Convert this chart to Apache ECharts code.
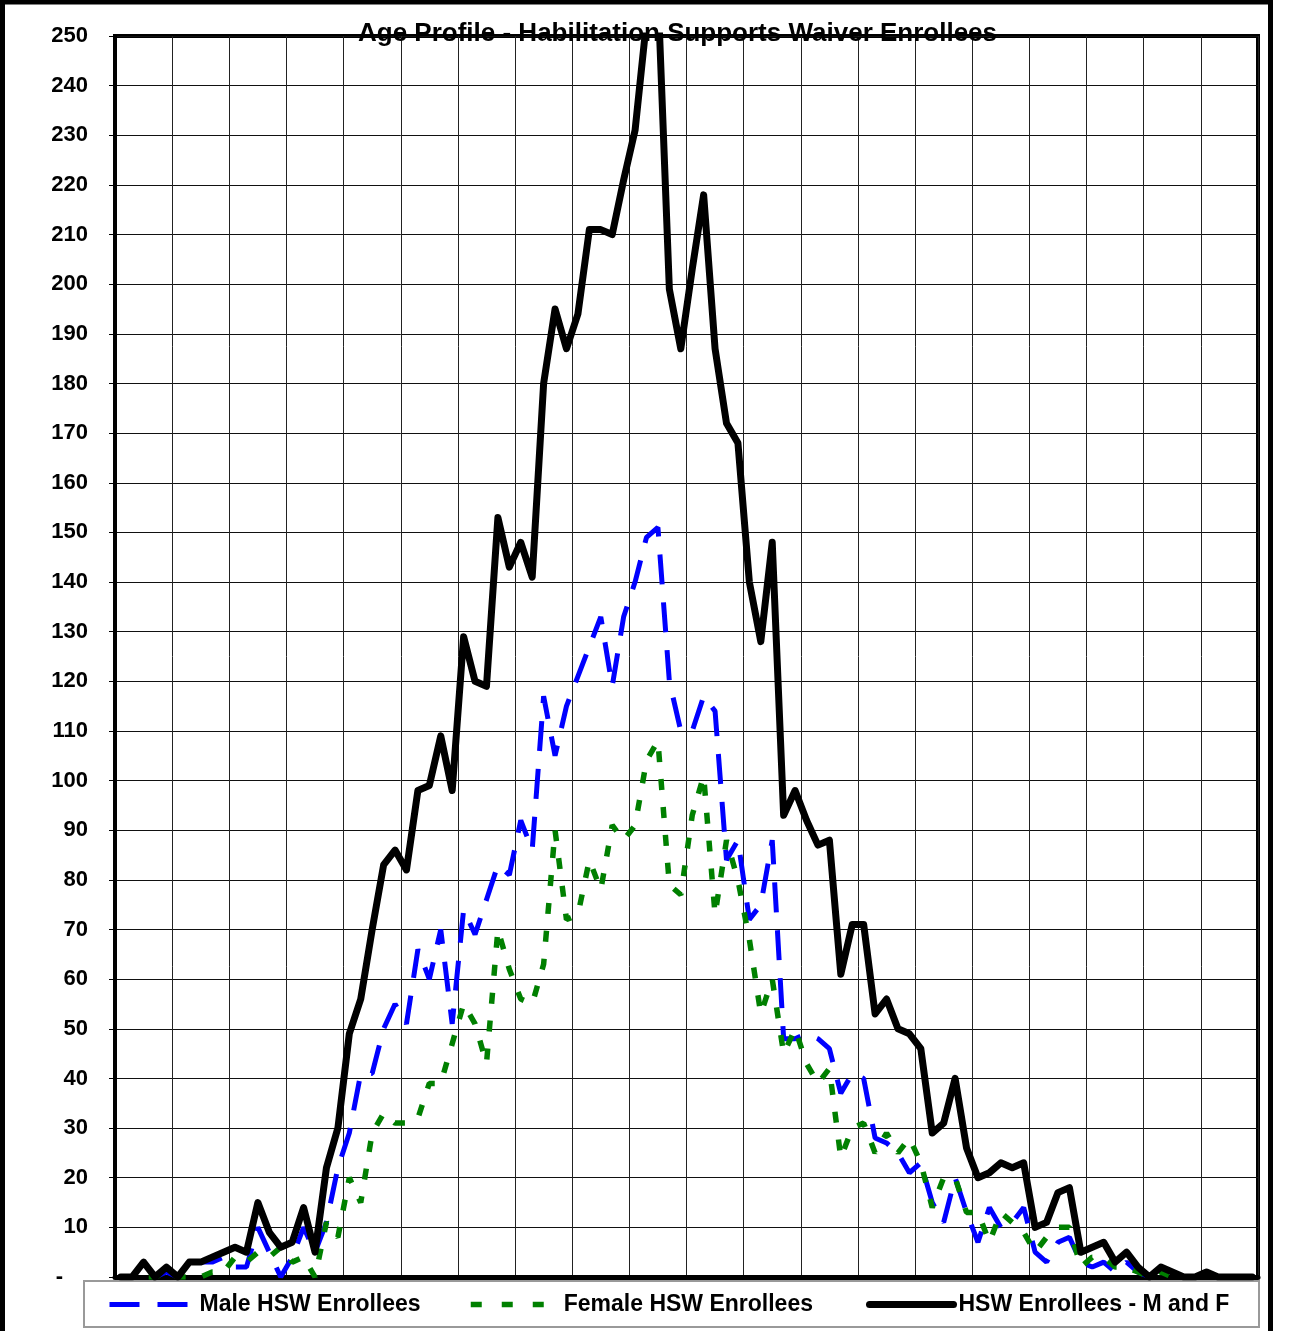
<!DOCTYPE html>
<html>
<head>
<meta charset="utf-8">
<script src="https://cdn.jsdelivr.net/npm/echarts@6/dist/echarts.min.js"></script>
<style>
  html, body { margin: 0; padding: 0; background: #fff; }
  #chart { width: 1290px; height: 1331px; }
</style>
</head>
<body>
<div id="chart"></div>
<script>
// ages 0..99
const ages = [
  0, 1, 2, 3, 4, 5, 6, 7, 8, 9, 10, 11, 12, 13, 14, 15, 16, 17, 18, 19,
  20, 21, 22, 23, 24, 25, 26, 27, 28, 29, 30, 31, 32, 33, 34, 35, 36, 37, 38, 39,
  40, 41, 42, 43, 44, 45, 46, 47, 48, 49, 50, 51, 52, 53, 54, 55, 56, 57, 58, 59,
  60, 61, 62, 63, 64, 65, 66, 67, 68, 69, 70, 71, 72, 73, 74, 75, 76, 77, 78, 79,
  80, 81, 82, 83, 84, 85, 86, 87, 88, 89, 90, 91, 92, 93, 94, 95, 96, 97, 98, 99
]

const male = [
  0, 0, 3, 0, 1, 0, 3, 3, 3, 4, 2, 2, 10, 5, 0, 4, 10, 5, 11, 22,
  29, 41, 41, 50, 55, 51, 66, 60, 70, 51, 74, 69, 76, 83, 81, 92, 86, 117, 105, 115,
  121, 127, 133, 119, 133, 140, 149, 151, 120, 110, 110, 117, 114, 84, 88, 72, 75, 88, 48, 48,
  49, 48, 46, 37, 41, 40, 28, 27, 25, 21, 23, 15, 11, 20, 13, 7, 14, 10, 11, 14,
  5, 3, 7, 8, 3, 2, 3, 1, 3, 1, 0, 1, 1, 0, 0, 0, 0, 0, 0, 0
]

const female = [
  0, 0, 0, 0, 1, 0, 0, 0, 1, 1, 4, 3, 5, 4, 6, 3, 4, 0, 11, 8,
  20, 15, 29, 33, 31, 31, 32, 39, 39, 47, 55, 51, 43, 70, 62, 56, 55, 63, 90, 72,
  73, 84, 78, 91, 88, 91, 104, 108, 79, 77, 93, 101, 73, 88, 80, 68, 53, 60, 45, 50,
  43, 39, 42, 24, 30, 31, 25, 29, 25, 28, 23, 14, 20, 20, 13, 13, 7, 13, 11, 9,
  5, 8, 10, 10, 2, 4, 4, 2, 2, 1, 0, 1, 0, 0, 0, 1, 0, 0, 0, 0
]

const total = [
  0, 0, 3, 0, 2, 0, 3, 3, 4, 5, 6, 5, 15, 9, 6, 7, 14, 5, 22, 30,
  49, 56, 70, 83, 86, 82, 98, 99, 109, 98, 129, 120, 119, 153, 143, 148, 141, 180, 195, 187,
  194, 211, 211, 210, 221, 231, 253, 259, 199, 187, 203, 218, 187, 172, 168, 140, 128, 148, 93, 98,
  92, 87, 88, 61, 71, 71, 53, 56, 50, 49, 46, 29, 31, 40, 26, 20, 21, 23, 22, 23,
  10, 11, 17, 18, 5, 6, 7, 3, 5, 2, 0, 2, 1, 0, 0, 1, 0, 0, 0, 0
]

const names = ['Male HSW Enrollees', 'Female HSW Enrollees', 'HSW Enrollees - M and F']
const font = '"Liberation Sans", Arial, sans-serif'

const chart = echarts.init(document.getElementById('chart'))

const legendBase = {
  top: 1293,
  padding: 0,
  itemHeight: 14,
  itemStyle: { opacity: 0 },
  textStyle: { fontFamily: font, fontWeight: 'bold', fontSize: 23, color: '#000' },
  selectedMode: false
}

const option = {
  animation: false,
  backgroundColor: '#fff',
  title: {
    text: 'Age Profile - Habilitation Supports Waiver Enrollees',
    left: 358,
    top: 21,
    padding: 0,
    textStyle: { fontFamily: font, fontWeight: 'bold', fontSize: 26, color: '#000' },
    z: 10
  },
  graphic: [
    { // outer frame
      type: 'rect',
      shape: { x: 2.5, y: 2, width: 1268, height: 1360 },
      style: { fill: 'none', stroke: '#000', lineWidth: 5 },
      silent: true
    },
    { // legend box
      type: 'rect',
      shape: { x: 84, y: 1281, width: 1175, height: 46 },
      style: { fill: '#fff', stroke: '#999', lineWidth: 2 },
      silent: true
    }
  ],
  legend: [
    Object.assign({}, legendBase, {
      left: 107, itemWidth: 85, data: [names[0]],
      lineStyle: { color: '#0000ff', width: 5, type: [30, 18], cap: 'butt', opacity: 1 }
    }),
    Object.assign({}, legendBase, {
      left: 468, itemWidth: 88, data: [names[1]],
      lineStyle: { color: '#008000', width: 5.5, type: [11, 20], cap: 'butt', opacity: 1 }
    }),
    Object.assign({}, legendBase, {
      left: 866, itemWidth: 84, data: [names[2]],
      lineStyle: { color: '#000', width: 7, cap: 'round', opacity: 1 }
    })
  ],
  grid: {
    left: 115,
    right: 32,
    top: 36,
    bottom: 54,
    show: true,
    borderColor: '#000',
    borderWidth: 4
  },
  xAxis: {
    type: 'category',
    data: ages,
    boundaryGap: true,
    axisLabel: { show: false },
    axisTick: { show: false },
    axisLine: { lineStyle: { color: '#000', width: 5 } },
    splitLine: { show: true, interval: 4, lineStyle: { color: '#222', width: 1 } }
  },
  yAxis: {
    type: 'value',
    min: 0,
    max: 250,
    interval: 10,
    axisLine: { show: true, lineStyle: { color: '#000', width: 4 } },
    axisTick: { show: true, length: 6, lineStyle: { color: '#000', width: 1 } },
    axisLabel: {
      margin: 27,
      fontFamily: font,
      fontWeight: 'bold',
      fontSize: 22,
      color: '#000',
      formatter: function (v) { return v === 0 ? '{d|-}' : String(v) },
      rich: { d: { fontFamily: font, fontWeight: 'bold', fontSize: 22, color: '#000', padding: [0, 25, 0, 0] } }
    },
    splitLine: { show: true, lineStyle: { color: '#111', width: 1 } }
  },
  series: [
    {
      name: names[0],
      type: 'line',
      data: male,
      symbol: 'none',
      color: '#0000ff',
      lineStyle: { color: '#0000ff', width: 5, type: [30, 18], cap: 'butt' },
      z: 3
    },
    {
      name: names[1],
      type: 'line',
      data: female,
      symbol: 'none',
      color: '#008000',
      lineStyle: { color: '#008000', width: 5.5, type: [11, 17], cap: 'butt' },
      z: 3
    },
    {
      name: names[2],
      type: 'line',
      data: total,
      symbol: 'none',
      color: '#000',
      lineStyle: { color: '#000', width: 7, join: 'round', cap: 'round' },
      z: 4
    }
  ]
}

chart.setOption(option)
</script>
</body>
</html>
